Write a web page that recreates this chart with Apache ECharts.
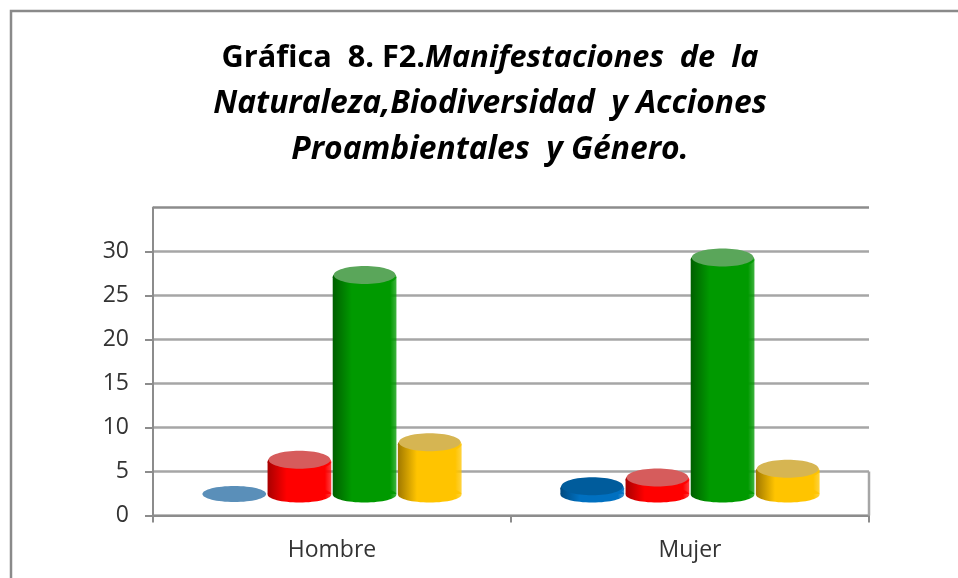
<!DOCTYPE html>
<html>
<head>
<meta charset="utf-8">
<style>
  html, body { margin: 0; padding: 0; background: #fff; }
  #chart { width: 958px; height: 578px; }
</style>
<script src="https://cdn.jsdelivr.net/npm/echarts@6/dist/echarts.min.js"></script>
</head>
<body>
<div id="chart"></div>
<script>
const categories = ['Hombre', 'Mujer']
const serie1 = [0, 1]
const serie2 = [4, 2]
const serie3 = [25, 27]
const serie4 = [6, 3]
const yTicks = [0, 5, 10, 15, 20, 25, 30]

// [dark edge, bright middle, top cap]
const blue = ['#004a80', '#0070c0', '#005c9c']
const red = ['#a80000', '#ff0000', '#d65c5c']
const green = ['#005f00', '#009a00', '#5aa65a']
const yellow = ['#a07800', '#ffc400', '#d6b552']
const flatBlue = '#5a8fb9'

const FONT = 'Open Sans'
const FLOOR = 2.44 // the 3D floor sits this far above the axis, in axis units
const BAND_STEP = 0.182
const BAR_W = 0.178
const BASE_RY = 8
const CAP_RY = 9

const myChart = echarts.init(document.getElementById('chart'))

const cylinder = (slot, colors) => (params, api) => {
  const band = api.size([1, 0])[0]
  const w = band * BAR_W
  const cx = api.coord([api.value(0), 0])[0] + slot * band * BAND_STEP
  const rx = w / 2
  const baseY = api.coord([0, FLOOR])[1]
  const topY = api.coord([0, api.value(1) + FLOOR])[1]
  if (api.value(1) === 0) {
    return { type: 'ellipse', shape: { cx, cy: baseY, rx, ry: BASE_RY }, style: { fill: flatBlue } }
  }
  const side = new echarts.graphic.LinearGradient(0, 0, 1, 0, [
    { offset: 0, color: colors[0] },
    { offset: 0.3, color: colors[1] },
    { offset: 0.9, color: colors[1] },
    { offset: 1, color: colors[1] + 'c0' }
  ])
  return {
    type: 'group',
    children: [
      { type: 'ellipse', shape: { cx, cy: baseY + 0.5, rx, ry: BASE_RY }, style: { fill: side } },
      { type: 'rect', shape: { x: cx - rx, y: topY + 3, width: w, height: baseY - topY - 3 }, style: { fill: side } },
      { type: 'ellipse', shape: { cx, cy: topY + 3, rx, ry: CAP_RY }, style: { fill: side } },
      { type: 'ellipse', shape: { cx, cy: topY + 1, rx: rx - 1, ry: CAP_RY }, style: { fill: colors[2] } }
    ]
  }
}

const cylinderSeries = (name, values, slot, colors) => ({
  name,
  type: 'custom',
  renderItem: cylinder(slot, colors),
  data: values.map((v, i) => [i, v]),
  encode: { x: 0, y: 1 },
  clip: false,
  z: 3
})

const titleStyle = (fontSize, fontStyle) => ({
  fontFamily: FONT, fontSize, fontWeight: 'bold', fontStyle, color: '#000', lineHeight: 45.5
})

myChart.setOption({
  animation: false,
  backgroundColor: '#fff',
  title: {
    left: 485,
    top: 31,
    textAlign: 'center',
    text: '{b|Gráfica  8. F2.}{i1|Manifestaciones  de  la}\n{i|Naturaleza,Biodiversidad  y Acciones}\n{i|Proambientales  y Género.}',
    textStyle: {
      rich: {
        b: titleStyle(30.7, 'normal'),
        i1: titleStyle(30.7, 'italic'),
        i: titleStyle(31.8, 'italic')
      }
    }
  },
  graphic: [{
    type: 'polyline',
    shape: { points: [[11, 600], [11, 11], [980, 11]] },
    style: { fill: null, stroke: '#8a8a8a', lineWidth: 2.5 }
  }],
  grid: { left: 153, top: 207.5, width: 716, height: 308 },
  xAxis: {
    type: 'category',
    data: categories,
    axisLine: { lineStyle: { color: '#8c8c8c', width: 2 } },
    axisTick: { show: true, length: 7, lineStyle: { color: '#8c8c8c', width: 2 } },
    axisLabel: { fontFamily: FONT, fontSize: 23, color: '#333', margin: 23 }
  },
  yAxis: {
    type: 'value',
    min: 0,
    max: 35,
    interval: 5,
    axisLine: { show: true, lineStyle: { color: '#8c8c8c', width: 2 } },
    axisTick: { show: true, length: 8, customValues: yTicks, lineStyle: { color: '#8c8c8c', width: 2 } },
    axisLabel: { fontFamily: FONT, fontSize: 23, color: '#333', margin: 24, customValues: yTicks },
    splitLine: { show: true, lineStyle: { color: '#a6a6a6', width: 2.5 } }
  },
  series: [
    cylinderSeries('Serie 1', serie1, -1.5, blue),
    cylinderSeries('Serie 2', serie2, -0.5, red),
    cylinderSeries('Serie 3', serie3, 0.5, green),
    cylinderSeries('Serie 4', serie4, 1.5, yellow),
    {
      // right edge of the floor (0 up to the first gridline) and the wall's top line
      type: 'custom',
      silent: true,
      data: [[1, 0]],
      encode: { x: 0, y: 1 },
      z: 1,
      renderItem: (params, api) => {
        const x = api.coord([1, 0])[0] + api.size([1, 0])[0] / 2
        const topLine = api.coord([0, 35])
        return {
          type: 'group',
          children: [
            {
              type: 'line',
              shape: { x1: x, y1: api.coord([1, 0])[1], x2: x, y2: api.coord([1, yTicks[1]])[1] },
              style: { stroke: '#a6a6a6', lineWidth: 2.5 }
            },
            {
              type: 'line',
              shape: { x1: topLine[0] - api.size([1, 0])[0] / 2, y1: topLine[1], x2: x, y2: topLine[1] },
              style: { stroke: '#8c8c8c', lineWidth: 2.5 }
            }
          ]
        }
      }
    }
  ]
})
</script>
</body>
</html>
